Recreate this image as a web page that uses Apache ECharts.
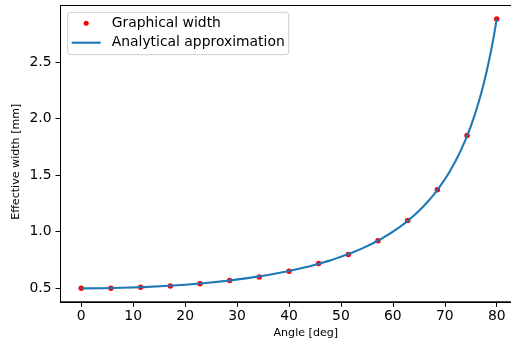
<!DOCTYPE html>
<html>
<head>
<meta charset="utf-8">
<script src="https://cdn.jsdelivr.net/npm/echarts@6/dist/echarts.min.js"></script>
<style>html,body{margin:0;padding:0;background:#fff;}#c{width:511px;height:342px;}</style>
</head>
<body>
<div id="c"></div>
<script>
// Measured points (Graphical width)
const pointAngles = [0, 5.714, 11.429, 17.143, 22.857, 28.571, 34.286, 40, 45.714, 51.429, 57.143, 62.857, 68.571, 74.286, 80];
const pointWidths = [0.50, 0.50, 0.51, 0.52, 0.54, 0.57, 0.60, 0.65, 0.72, 0.80, 0.92, 1.10, 1.37, 1.85, 2.88];
// Analytical approximation curve
const curveAngles = [0, 4, 8, 12, 16, 20, 24, 28, 32, 36, 40, 44, 48, 52, 54, 56, 58, 60, 61, 62, 63, 64, 65, 66, 67, 68, 69, 70, 71, 72, 73, 74, 74.5, 75, 75.5, 76, 76.5, 77, 77.5, 78, 78.5, 79, 79.5, 80];
const curveWidths = [0.500, 0.501, 0.505, 0.511, 0.520, 0.532, 0.547, 0.566, 0.590, 0.618, 0.653, 0.695, 0.747, 0.812, 0.851, 0.894, 0.943, 1.000, 1.031, 1.065, 1.101, 1.141, 1.183, 1.229, 1.280, 1.335, 1.396, 1.462, 1.536, 1.618, 1.710, 1.814, 1.871, 1.932, 1.997, 2.067, 2.142, 2.222, 2.309, 2.405, 2.508, 2.620, 2.744, 2.880];
const xTicks = [0, 10, 20, 30, 40, 50, 60, 70, 80];
const yTicks = [0.5, 1.0, 1.5, 2.0, 2.5];
const seriesNames = ['Graphical width', 'Analytical approximation'];
const xTitle = 'Angle [deg]';
const yTitle = 'Effective width [mm]';

const font = 'DejaVu Sans';
const chart = echarts.init(document.getElementById('c'), null, {renderer: 'canvas'});
chart.setOption({
  animation: false,
  backgroundColor: '#fff',
  grid: {
    left: 60.5, top: 5.5, width: 457, height: 296.3,
    show: true, borderColor: '#000', borderWidth: 1, backgroundColor: 'transparent',
    containLabel: false, outerBoundsMode: 'none'
  },
  xAxis: {
    type: 'value', min: -4, max: 84,
    splitLine: {show: false},
    axisLine: {show: true, onZero: false, lineStyle: {color: '#000', width: 1}},
    axisTick: {show: true, length: 5, lineStyle: {color: '#000', width: 1}, customValues: xTicks},
    axisLabel: {customValues: xTicks, margin: 8, color: '#000', fontSize: 13.9, fontFamily: font, showMinLabel: true, showMaxLabel: true}
  },
  yAxis: {
    type: 'value', min: 0.381, max: 2.999,
    splitLine: {show: false},
    axisLine: {show: true, onZero: false, lineStyle: {color: '#000', width: 1}},
    axisTick: {show: true, length: 5, lineStyle: {color: '#000', width: 1}, customValues: yTicks},
    axisLabel: {customValues: yTicks, margin: 9, color: '#000', fontSize: 13.9, fontFamily: font,
      formatter: v => Number(v).toFixed(1)}
  },
  legend: {
    orient: 'vertical', left: 67.7, top: 12.3,
    padding: [3, 4, 4, 4],
    itemGap: 3.4, itemWidth: 29, itemHeight: 5,
    backgroundColor: 'rgba(255,255,255,0.8)', borderColor: '#cccccc', borderWidth: 1, borderRadius: 3,
    textStyle: {fontSize: 13.9, fontFamily: font, color: '#000', lineHeight: 16, padding: [0, 0, 0, 6]},
    data: [
      {name: seriesNames[0], icon: 'circle', itemStyle: {color: '#ff0000', opacity: 1}},
      {name: seriesNames[1], icon: 'path://M0,0H29V2.1H0Z'}
    ]
  },
  graphic: [
    {type: 'text', x: 305.8, y: 333.5, style: {text: xTitle, font: '11.1px "DejaVu Sans"', fill: '#000', align: 'center', verticalAlign: 'middle'}},
    {type: 'text', x: 16, y: 161.7, rotation: Math.PI / 2, style: {text: yTitle, font: '11.1px "DejaVu Sans"', fill: '#000', align: 'center', verticalAlign: 'middle'}}
  ],
  series: [
    {
      name: seriesNames[0], type: 'scatter',
      data: pointAngles.map((a, i) => [a, pointWidths[i]]),
      symbol: 'circle', symbolSize: 5.5,
      itemStyle: {color: '#ff0000', opacity: 1}
    },
    {
      name: seriesNames[1], type: 'line',
      data: curveAngles.map((a, i) => [a, curveWidths[i]]),
      showSymbol: false, symbol: 'none', smooth: false,
      color: '#1f77b4',
      lineStyle: {color: '#1f77b4', width: 2.1, join: 'round'}
    }
  ]
});
</script>
</body>
</html>
